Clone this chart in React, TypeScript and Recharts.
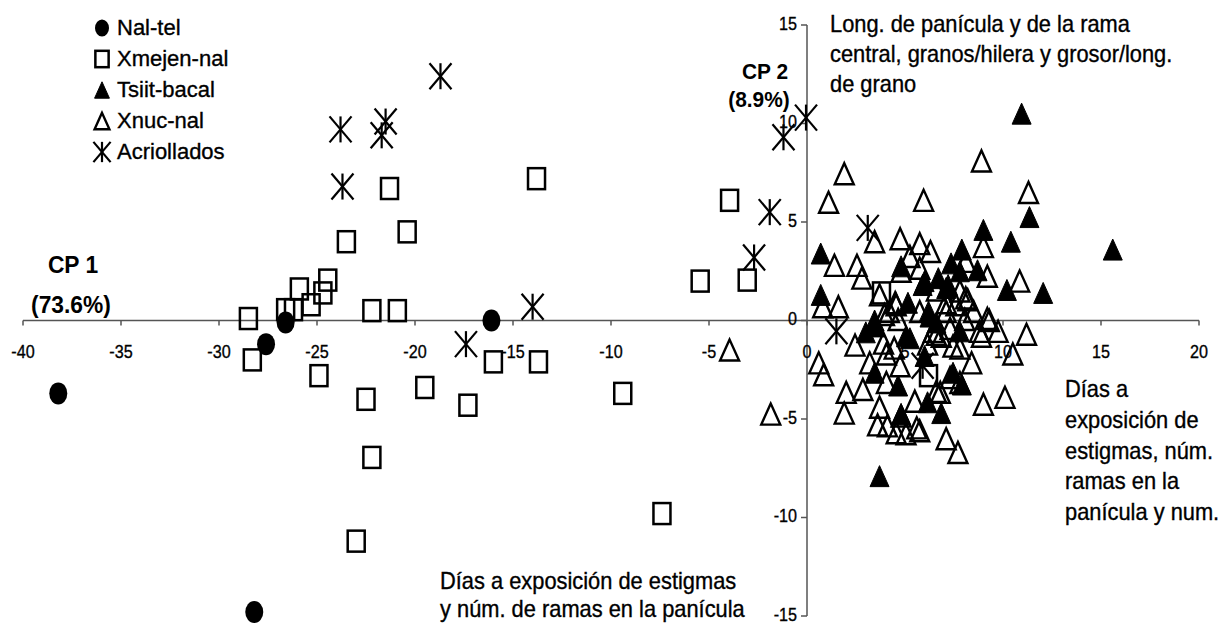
import React from "react";
import {
  ScatterChart,
  Scatter,
  XAxis,
  YAxis,
  ReferenceLine,
  ReferenceDot,
  Legend,
  Customized,
} from "recharts";

const xTicks = [-40, -35, -30, -25, -20, -15, -10, -5, 0, 5, 10, 15, 20];
const yTicks = [-15, -10, -5, 0, 5, 10, 15];

const nalTel = [[-38.2, -3.7], [-27.6, -1.2], [-26.6, -0.1], [-16.1, 0.0], [-28.2, -14.8]];

const xmejenNal = [
  [-28.5, 0.1], [-28.3, -2.0], [-26.6, 0.55], [-26.2, 0.55], [-25.9, 1.6], [-25.3, 0.8],
  [-24.7, 1.4], [-24.45, 2.05], [-23.5, 4.0], [-22.2, 0.5], [-20.9, 0.5], [-24.9, -2.8],
  [-20.4, 4.5], [-21.3, 6.7], [-13.8, 7.2], [-16.0, -2.1], [-13.7, -2.1], [-19.5, -3.4],
  [-17.3, -4.3], [-9.4, -3.7], [-22.5, -4.0], [-22.2, -6.95], [-23.0, -11.2], [-7.4, -9.8],
  [-3.95, 6.1], [-5.45, 2.0], [-3.05, 2.05], [3.8, 1.4], [6.2, -2.8],
];

const tsiitBacal = [
  [10.95, 10.5], [15.6, 3.6], [0.7, 3.4], [0.7, 1.3], [9.0, 4.6], [11.35, 5.25], [10.4, 4.0],
  [12.05, 1.4], [10.2, 1.55], [7.9, 3.6], [7.35, 2.9], [8.7, 2.55], [4.8, 2.75], [6.0, 2.0],
  [6.7, 2.15], [7.2, 1.8], [7.8, 2.5], [5.9, 1.8], [7.1, 1.65], [5.15, 0.9], [6.2, 0.45],
  [3.45, 0.0], [3.5, -0.3], [3.0, -0.6], [5.05, -0.8], [5.25, -0.9], [6.25, 0.2], [6.6, -0.1],
  [7.8, -0.55], [6.0, -1.8], [3.45, -2.65], [4.65, -3.3], [7.45, -2.65], [7.9, -3.25],
  [6.15, -4.15], [6.85, -4.7], [4.8, -4.75], [3.7, -7.9],
];

const xnucNal = [
  [1.9, 7.45], [1.1, 6.0], [5.95, 6.1], [8.9, 8.1], [11.3, 6.5], [3.45, 4.0], [1.4, 2.8],
  [2.55, 2.8], [2.8, 2.15], [4.75, 4.15], [5.75, 3.9], [6.3, 3.5], [5.25, 3.25], [4.8, 2.5],
  [5.75, 2.65], [9.0, 3.75], [9.2, 2.25], [10.85, 2.0], [3.7, 1.3], [1.6, 0.7], [0.8, 0.7],
  [4.55, 0.8], [3.95, 0.3], [4.65, 0.05], [7.1, 0.45], [7.6, 0.8], [8.1, 1.15], [8.5, 0.45],
  [9.2, 0.1], [5.75, 0.45], [8.05, 0.05], [8.1, 3.0], [7.8, 1.5], [8.2, 1.05], [7.1, 0.9],
  [6.6, 1.55], [4.2, 0.45], [4.5, 0.9],
  [2.45, -1.25], [0.6, -2.15], [0.85, -2.75], [2.0, -3.65], [2.85, -3.5], [1.9, -4.7],
  [3.2, -2.15], [3.7, -4.4], [3.6, -5.3], [4.1, -5.35], [4.55, -5.7], [5.05, -5.75],
  [5.6, -5.45], [5.75, -5.6], [7.1, -6.0], [7.7, -6.7], [9.0, -4.25], [10.1, -3.9],
  [10.5, -1.7], [11.2, -0.7], [9.3, 0.0], [9.75, -0.55], [8.8, -0.55], [8.4, -2.15],
  [7.3, -2.9], [4.75, -2.3], [4.05, -1.7], [5.5, -4.1], [6.8, -3.65], [7.8, -3.15],
  [6.6, -0.7], [7.45, -1.3], [6.15, -1.2], [3.9, -1.15], [4.45, -1.4], [6.85, -0.8],
  [7.8, -1.4], [8.9, -0.8], [6.45, -0.55], [4.8, -4.85], [4.05, -3.15], [6.6, -3.6],
  [7.3, -0.4], [-3.95, -1.5], [-1.85, -4.75],
];

const acriollados = [
  [-18.7, 12.4], [-23.8, 9.7], [-21.5, 10.1], [-21.7, 9.4], [-23.7, 6.8], [-14.0, 0.7],
  [-17.4, -1.2], [-1.2, 9.3], [-0.05, 10.3], [-1.9, 5.5], [-2.7, 3.2], [3.1, 4.7],
  [1.5, -0.55], [5.9, -2.3],
];

const toPts = (a: number[][]) => a.map(([x, y]) => ({ x, y }));

const FONT = "'Liberation Sans', Arial, sans-serif";
const AX = "#555";

// marker glyphs, sized like the scanned figure (a bit taller than wide)
function glyph(kind: string, cx: number, cy: number, k = 1) {
  if (kind === "circle")
    return <ellipse cx={cx} cy={cy} rx={9 * k} ry={11 * k} fill="#000" />;
  if (kind === "square")
    return (
      <rect x={cx - 8.5 * k} y={cy - 10.5 * k} width={17 * k} height={21 * k}
        fill="none" stroke="#000" strokeWidth={2.5} />
    );
  if (kind === "tri" || kind === "otri") {
    const w = 9.5 * k, h = 10.5 * k;
    const pts = `${cx},${cy - h} ${cx - w},${cy + h} ${cx + w},${cy + h}`;
    return kind === "tri"
      ? <polygon points={pts} fill="#000" stroke="#000" strokeWidth={1} />
      : <polygon points={pts} fill="none" stroke="#000" strokeWidth={2.4} />;
  }
  const w = 11 * k, h = 13 * k;
  return (
    <g stroke="#000" strokeWidth={2.2}>
      <line x1={cx} y1={cy - h} x2={cx} y2={cy + h} />
      <line x1={cx - w} y1={cy - h} x2={cx + w} y2={cy + h} />
      <line x1={cx + w} y1={cy - h} x2={cx - w} y2={cy + h} />
    </g>
  );
}

const series = [
  { name: "Nal-tel", kind: "circle", data: nalTel },
  { name: "Xmejen-nal", kind: "square", data: xmejenNal },
  { name: "Tsiit-bacal", kind: "tri", data: tsiitBacal },
  { name: "Xnuc-nal", kind: "otri", data: xnucNal },
  { name: "Acriollados", kind: "star", data: acriollados },
];

function T({ x, y, size = 22, bold = false, anchor = "start", sx = 0.95, children }: any) {
  return (
    <text transform={`translate(${x} ${y}) scale(${sx} 1)`} fontFamily={FONT} fontSize={size}
      fontWeight={bold ? "bold" : "normal"} textAnchor={anchor} fill="#000"
      stroke={bold ? "none" : "#000"} strokeWidth={0.35}>
      {children}
    </text>
  );
}

function Notes() {
  const top = ["Long. de panícula y de la rama", "central, granos/hilera y grosor/long.", "de grano"];
  const right = ["Días a", "exposición de", "estigmas, núm.", "ramas en la", "panícula y num."];
  const bottom = ["Días a exposición de estigmas", "y núm. de ramas en la panícula"];
  return (
    <g>
      <T x={73} y={273} size={24} bold anchor="middle">CP 1</T>
      <T x={71} y={313} size={24} bold anchor="middle">(73.6%)</T>
      <T x={765} y={79} size={22} bold anchor="middle">CP 2</T>
      <T x={759} y={107} size={22} bold anchor="middle">(8.9%)</T>
      {top.map((s, i) => <T key={s} x={830} y={32 + i * 30} size={23}>{s}</T>)}
      {right.map((s, i) => <T key={s} x={1065} y={397 + i * 30.8} size={23}>{s}</T>)}
      {bottom.map((s, i) => <T key={s} x={440} y={589 + i * 28} size={23}>{s}</T>)}
    </g>
  );
}

const XTick = ({ cx, cy, v }: any) => (
  <g>
    <line x1={cx} y1={cy} x2={cx} y2={cy + 5} stroke={AX} strokeWidth={1.5} />
    <T x={cx} y={cy + 37} size={19} anchor="middle" sx={0.85}>{v}</T>
  </g>
);

const YTick = ({ cx, cy, v }: any) => (
  <g>
    <line x1={cx - 6} y1={cy} x2={cx} y2={cy} stroke={AX} strokeWidth={1.5} />
    <T x={cx - 10} y={cy + 4.5} size={19} anchor="end" sx={0.85}>{v}</T>
  </g>
);

function LegendBox() {
  return (
    <div style={{ fontFamily: FONT, fontSize: 22, color: "#000", WebkitTextStroke: "0.35px #000" }}>
      {series.map((s) => (
        <div key={s.name} style={{ display: "flex", alignItems: "center", height: 31 }}>
          <svg width={22} height={26} style={{ marginRight: 4 }}>
            {glyph(s.kind, 11, 13, 0.78)}
          </svg>
          <span>{s.name}</span>
        </div>
      ))}
    </div>
  );
}

export default function App() {
  return (
    <div style={{ position: "absolute", left: 0, top: 0, background: "#fff" }}>
      <ScatterChart width={1229} height={626} margin={{ top: 25, right: 30, bottom: 10, left: 23 }}>
        <XAxis type="number" dataKey="x" domain={[-40, 20]} hide />
        <YAxis type="number" dataKey="y" domain={[-15, 15]} hide />
        <ReferenceLine y={0} stroke={AX} strokeWidth={1.5} ifOverflow="visible" />
        <ReferenceLine x={0} stroke={AX} strokeWidth={1.5} ifOverflow="visible" />
        {xTicks.map((t) => (
          <ReferenceDot key={"x" + t} x={t} y={0} r={0} ifOverflow="visible"
            shape={(p: any) => <XTick {...p} v={t} />} />
        ))}
        {yTicks.map((t) => (
          <ReferenceDot key={"y" + t} x={0} y={t} r={0} ifOverflow="visible"
            shape={(p: any) => <YTick {...p} v={t} />} />
        ))}
        {series.map((s) => (
          <Scatter key={s.name} name={s.name} data={toPts(s.data)} isAnimationActive={false}
            shape={(p: any) => glyph(s.kind, p.cx, p.cy)} />
        ))}
        <Customized component={Notes} />
        <Legend layout="vertical" align="center" verticalAlign="middle"
          wrapperStyle={{ top: 12, left: 91, width: 220, bottom: "auto", right: "auto" }}
          content={() => <LegendBox />} />
      </ScatterChart>
    </div>
  );
}
